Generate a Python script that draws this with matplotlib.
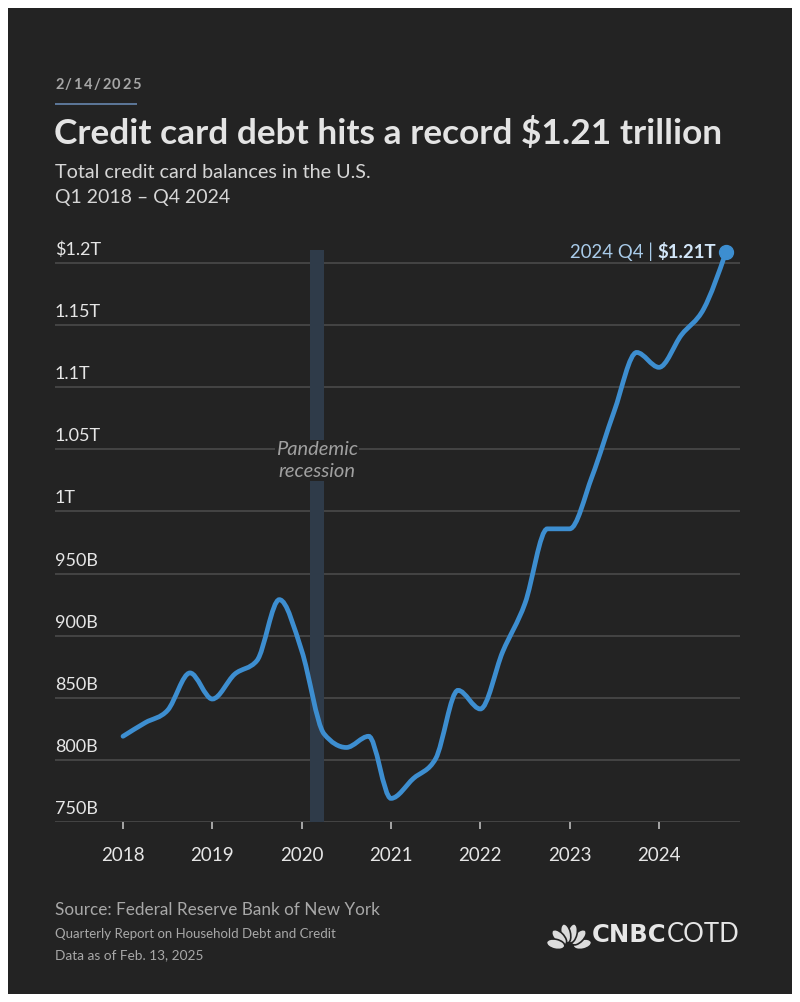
import numpy as np
import matplotlib
matplotlib.use("Agg")
import matplotlib.pyplot as plt
from matplotlib.path import Path
from matplotlib.patches import PathPatch, Rectangle, Ellipse

# quarterly credit card balances, billions of dollars (Q1 2018 .. Q4 2024)
quarters = np.arange(2018, 2025, 0.25)
balances = [819, 830, 840, 870, 849, 869, 880, 929,
            888, 821, 810, 819, 769, 785, 801, 856,
            841, 887, 926, 986, 986, 1028, 1081, 1128,
            1116, 1142, 1163, 1209]

year_ticks = [2018, 2019, 2020, 2021, 2022, 2023, 2024]
y_ticks = [750, 800, 850, 900, 950, 1000, 1050, 1100, 1150, 1200]
y_labels = ["750B", "800B", "850B", "900B", "950B", "1T", "1.05T", "1.1T", "1.15T", "$1.2T"]
recession_start, recession_end = 2020.09, 2020.25
last_label = "2024 Q4 | "
last_value = "$1.21T"

BG = "#232323"
LINE = "#3d8ed0"
FONT = ["Lato", "DejaVu Sans"]
plt.rcParams["font.family"] = FONT

W, H = 800, 1002
fig = plt.figure(figsize=(W / 100, H / 100), dpi=100)
fig.patch.set_facecolor("white")


def fx(px):
    return px / W


def fy(py):
    return 1 - py / H


# dark card inside the white border
fig.patches.append(Rectangle((fx(8), fy(994)), fx(784), 986 / H, transform=fig.transFigure,
                             facecolor=BG, edgecolor="none", zorder=-5))

# header: date with letter spacing
renderer = fig.canvas.get_renderer()
cur = 55
for ch in "2/14/2025":
    t = fig.text(fx(cur), fy(85), ch, color="#a6a6a6", fontsize=10.5, fontweight="bold",
                 va="center", ha="left")
    cur = t.get_window_extent(renderer).x1 + 1.6
fig.patches.append(Rectangle((fx(55), fy(105)), fx(82), 2 / H, transform=fig.transFigure,
                             facecolor="#5b7596", edgecolor="none", zorder=-4))
fig.text(fx(54), fy(134), "Credit card debt hits a record $1.21 trillion", color="#e4e4e4",
         fontsize=25.4, fontweight="bold", va="center", ha="left")
fig.text(fx(55), fy(172), "Total credit card balances in the U.S.", color="#d6d6d6",
         fontsize=14.2, va="center", ha="left")
fig.text(fx(55), fy(197), "Q1 2018 \u2013 Q4 2024", color="#d6d6d6",
         fontsize=14, va="center", ha="left")

# chart area
ax_top, ax_bot = 240, 822
ax = fig.add_axes([fx(55), fy(ax_bot), fx(740 - 55), (ax_bot - ax_top) / H])
ax.set_facecolor("none")
px_per_year = (659 - 123) / 6
ax.set_xlim(2018 - (123 - 55) / px_per_year, 2024 + (740 - 659) / px_per_year)
px_per_b = (822 - 263) / 450
ax.set_ylim(750, 1200 + (263 - ax_top) / px_per_b)

for s in ax.spines.values():
    s.set_visible(False)
ax.set_yticks(y_ticks)
ax.yaxis.set_tick_params(length=0, labelleft=False)
ax.grid(axis="y", color="#4e4e4e", linewidth=1.1)
ax.set_axisbelow(True)
ax.set_xticks(year_ticks)
ax.set_xticklabels([str(y) for y in year_ticks])
ax.tick_params(axis="x", length=5, width=1.2, color="#bdbdbd", pad=13,
               labelsize=13.5, labelcolor="#e6e6e6")

for v, lab in zip(y_ticks, y_labels):
    ax.annotate(lab, xy=(0, v), xycoords=ax.get_yaxis_transform(),
                xytext=(0, 13), textcoords="offset pixels",
                ha="left", va="center", fontsize=13, color="#e6e6e6")

# recession band
band_top = 1200 + 13 / px_per_b
ax.fill_between([recession_start, recession_end], 750, band_top,
                color="#2f3b49", linewidth=0, zorder=1)
ax.text((recession_start + recession_end) / 2, 1041, "Pandemic\nrecession",
        ha="center", va="center", fontsize=14.5, style="italic", color="#a0a0a0",
        linespacing=1.3, zorder=3,
        bbox=dict(boxstyle="square,pad=0.05", facecolor=BG, edgecolor="none"))


# smooth monotone curve through the quarterly points
def monotone_path(x, y):
    x = np.asarray(x, float)
    y = np.asarray(y, float)
    n = len(x)
    h = np.diff(x)
    s = np.diff(y) / h
    t = np.zeros(n)
    for i in range(1, n - 1):
        p = (s[i - 1] * h[i] + s[i] * h[i - 1]) / (h[i - 1] + h[i])
        t[i] = (np.sign(s[i - 1]) + np.sign(s[i])) * min(abs(s[i - 1]), abs(s[i]), 0.5 * abs(p))
    t[0] = (3 * s[0] - t[1]) / 2
    t[-1] = (3 * s[-1] - t[-2]) / 2
    verts = [(x[0], y[0])]
    codes = [Path.MOVETO]
    for i in range(n - 1):
        dx = h[i] / 3
        verts += [(x[i] + dx, y[i] + dx * t[i]), (x[i + 1] - dx, y[i + 1] - dx * t[i + 1]),
                  (x[i + 1], y[i + 1])]
        codes += [Path.CURVE4] * 3
    return Path(verts, codes)


ax.add_patch(PathPatch(monotone_path(quarters, balances), facecolor="none",
                       edgecolor=LINE, linewidth=3.4, capstyle="round", zorder=4))
ax.plot(quarters[-1], balances[-1], "o", color=LINE, markersize=10, zorder=5, clip_on=False)

t1 = ax.annotate(last_value, xy=(quarters[-1], balances[-1]), xytext=(-10, 0),
                 textcoords="offset pixels", ha="right", va="center",
                 fontsize=13.4, fontweight="bold", color="#d2e6f8")
ax.annotate(last_label, xy=(0, 0.5), xycoords=t1, ha="right", va="center",
            fontsize=13.4, color="#a9cbe9")

# footer
fig.text(fx(55), fy(910), "Source: Federal Reserve Bank of New York", color="#a8a8a8",
         fontsize=12.3, va="center", ha="left")
fig.text(fx(55), fy(934), "Quarterly Report on Household Debt and Credit", color="#a8a8a8",
         fontsize=9.5, va="center", ha="left")
fig.text(fx(55), fy(955), "Data as of Feb. 13, 2025", color="#a8a8a8",
         fontsize=9.8, va="center", ha="left")

# logo
lax = fig.add_axes([fx(546), fy(949), fx(46), 30 / H])
lax.set_xlim(-1.6, 1.6)
lax.set_ylim(0, 2.0)
lax.axis("off")
for ang in [12, 44, 76, 104, 136, 168]:
    r = np.deg2rad(ang)
    lax.add_patch(Ellipse((0.95 * np.cos(r), 0.12 + 0.95 * np.sin(r)), 1.3, 0.66, angle=ang,
                          facecolor="#dcdcdc", edgecolor=BG, linewidth=1.2))
logo = fig.text(fx(592), fy(935), "CNBC", color="#e6e6e6", fontsize=17.5,
                fontweight="bold", family="DejaVu Sans", va="center", ha="left")
bb = logo.get_window_extent(renderer)
fig.text(bb.x1 / W, fy(935), "COTD", color="#e6e6e6", fontsize=18.5, fontweight="normal",
         family=["Lato", "DejaVu Sans"], va="center", ha="left")

fig.savefig("out.png", dpi=100, facecolor=fig.get_facecolor())
